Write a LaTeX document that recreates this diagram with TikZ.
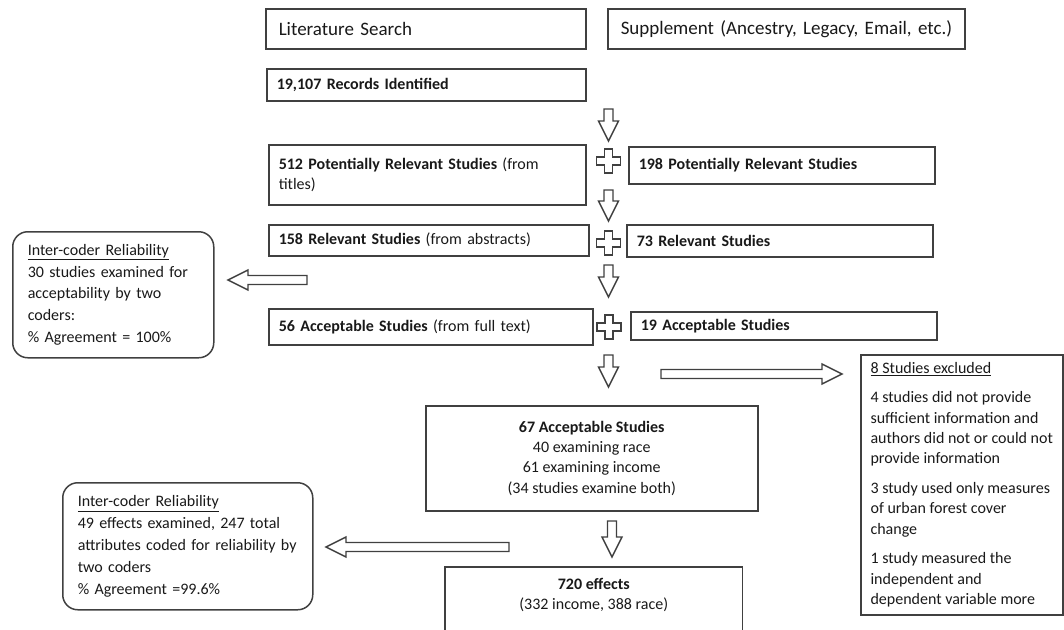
\documentclass[tikz,border=0pt]{standalone}
\usepackage{fontspec}
\setmainfont{Carlito}
\usetikzlibrary{positioning}

\tikzset{
  box/.style = {draw = black!75, line width = 1.5pt, anchor = north west, align = left, inner xsep = 10pt, inner ysep = 0pt, text = black!90, font = \fontsize{16}{20.3}\selectfont},
  topbox/.style = {box, inner xsep = 13pt, font = \fontsize{19}{23}\selectfont},
  roundbox/.style = {box, rounded corners = 15pt, inner xsep = 15pt, font = \fontsize{16}{21.8}\selectfont},
  fat/.style = {draw = black!75, line width = 1.4pt, fill = white}
}
\newcommand\fatarrow[3]{\draw[fat, shift = {(#1)}, rotate = #2] (0,-4.5) -- ({#3-20},-4.5) -- ({#3-20},-10) -- (#3,0) -- ({#3-20},10) -- ({#3-20},4.5) -- (0,4.5) -- cycle;}
\newcommand\plussign[1]{\draw[fat, shift = {(#1)}] (-4,-12) -- (4,-12) -- (4,-4) -- (12,-4) -- (12,4) -- (4,4) -- (4,12) -- (-4,12) -- (-4,4) -- (-12,4) -- (-12,-4) -- (-4,-4) -- cycle;}

\begin{document}
\begin{tikzpicture}[x = 1pt, y = -1pt]
\useasboundingbox (0,0) rectangle (1064,629);
\clip (0,0) rectangle (1064,629);

\node[topbox, minimum width = 320pt, minimum height = 40pt, text width = 294pt] (lit) at (265,8) {Literature Search};
\node[topbox, minimum width = 357pt, minimum height = 40pt, text width = 340pt, inner xsep = 8.5pt] (sup) at (607,8) {\hspace*{4.5pt}Supplement (Ancestry, Legacy, Email, etc.)};
\node[box, minimum width = 319pt, minimum height = 32pt, text width = 299pt] (rec) at (266,68) {\textbf{19,107 Records Identified}};
\node[box, minimum width = 317pt, minimum height = 60pt, text width = 297pt] (pot) at (268,144) {\textbf{512 Potentially Relevant Studies} (from\\titles)};
\node[box, minimum width = 306pt, minimum height = 37pt, text width = 286pt] (potb) at (628,146) {\textbf{198 Potentially Relevant Studies}};
\node[box, minimum width = 320pt, minimum height = 31pt, text width = 300pt] (rel) at (268,224) {\textbf{158 Relevant Studies} (from abstracts)};
\node[box, minimum width = 306pt, minimum height = 32pt, text width = 286pt] (relb) at (626,224) {\textbf{73 Relevant Studies}};
\node[box, minimum width = 324pt, minimum height = 36pt, text width = 304pt] (acc) at (268,308) {\textbf{56 Acceptable Studies} (from full text)};
\node[box, minimum width = 306pt, minimum height = 28pt, text width = 286pt] (accb) at (630,311) {\textbf{19 Acceptable Studies}};

\node[roundbox, minimum width = 201pt, minimum height = 126pt, text width = 171pt] (irr) at (12,231) {\underline{Inter-coder Reliability}\\30 studies examined for\\acceptability by two\\coders:\\\% Agreement = 100\%};
\node[roundbox, minimum width = 250pt, minimum height = 127pt, text width = 220pt] (irrb) at (62,482) {\underline{Inter-coder Reliability}\\49 effects examined, 247 total\\attributes coded for reliability by\\two coders\\\% Agreement =99.6\%};

\node[box, align = center, minimum width = 332pt, minimum height = 105pt] (sel) at (425,405) {\textbf{67 Acceptable Studies}\\40 examining race\\61 examining income\\(34 studies examine both)};
\node[box, draw = none, align = center, minimum width = 296pt, minimum height = 54pt] (eff) at (445,567) {\textbf{720 effects}\\(332 income, 388 race)};
\draw[black!75, line width = 1.5pt] ([yshift = -20pt]eff.south west) -- (eff.north west) -- (eff.north east) -- ([yshift = -20pt]eff.south east);

\node[box, minimum width = 202pt, minimum height = 260pt, inner xsep = 6pt] (excl) at (860,354) {\underline{8 Studies excluded}\\[9pt]4 studies did not provide\\sufficient information and\\authors did not or could not\\provide information\\[9.5pt]3 study used only measures\\of urban forest cover\\change\\[9.5pt]1 study measured the\\independent and\\dependent variable more};

\coordinate (d1) at (608.5,109);
\coordinate (d2) at (608.5,190);
\coordinate (d3) at (608.5,265);
\coordinate (d4) at (608.5,355);
\coordinate (d5) at (612,521);
\coordinate (l1) at (307,280);
\coordinate (l2) at (509,547);
\coordinate (r1) at (661,374);
\coordinate (p1) at (608.5,161);
\coordinate (p2) at (608.5,243);
\coordinate (p3) at (609,327);

\fatarrow{d1}{-90}{32}
\fatarrow{d2}{-90}{31}
\fatarrow{d3}{-90}{32}
\fatarrow{d4}{-90}{32}
\fatarrow{d5}{-90}{36}
\fatarrow{l1}{180}{79}
\fatarrow{l2}{180}{183}
\fatarrow{r1}{0}{181}
\plussign{p1}
\plussign{p2}
\plussign{p3}
\end{tikzpicture}
\end{document}
